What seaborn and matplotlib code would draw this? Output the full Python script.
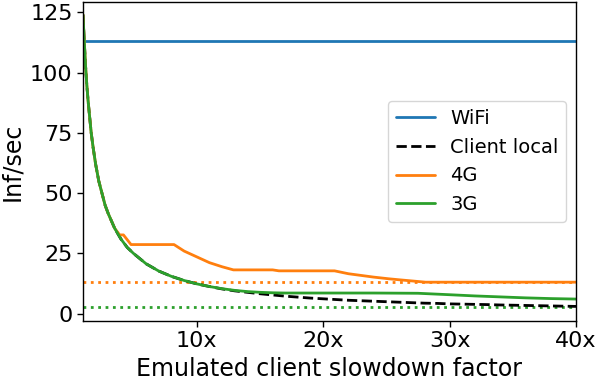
import matplotlib
matplotlib.use("Agg")
import matplotlib.pyplot as plt
import seaborn as sns

# ---- data ----
x_local = [1, 1.1, 1.2, 1.3, 1.4, 1.5, 1.65, 1.8, 2, 2.25, 2.5, 2.75, 3, 3.5, 4, 4.5, 5, 6,
           7, 8, 9, 10, 11, 12, 13, 14, 15, 16, 17, 18, 19, 20, 21, 22, 23, 24, 25, 26,
           27, 28, 29, 30, 31, 32, 33, 34, 35, 36, 37, 38, 39, 40]
y_local = [124, 113, 103, 95, 88.5, 83, 75, 69, 62, 55, 50, 45, 41.5, 35.5, 31, 27.5, 25,
           20.7, 17.7, 15.5, 13.8, 12.4, 11.3, 10.3, 9.5, 8.9, 8.3, 7.8, 7.3, 6.9, 6.5,
           6.2, 5.9, 5.6, 5.4, 5.2, 5.0, 4.8, 4.6, 4.4, 4.3, 4.1, 4.0, 3.9, 3.8, 3.65,
           3.55, 3.45, 3.35, 3.25, 3.15, 3.05]

x_3g = [1, 1.1, 1.2, 1.3, 1.4, 1.5, 1.65, 1.8, 2, 2.25, 2.5, 2.75, 3, 3.5, 4, 4.5, 5, 6,
        7, 8, 9, 10, 11, 12, 13, 14, 15, 16, 17, 20, 24, 27.5, 30, 32, 34, 36, 38, 40]
y_3g = [124, 113, 103, 95, 88.5, 83, 75, 69, 62, 55, 50, 45, 41.5, 35.5, 31, 27.5, 25,
        20.7, 17.7, 15.5, 13.8, 12.4, 11.3, 10.4, 9.7, 9.2, 8.9, 8.7, 8.6, 8.6, 8.6,
        8.5, 7.9, 7.4, 7.0, 6.6, 6.3, 6.1]

x_4g = [1, 1.1, 1.2, 1.3, 1.4, 1.5, 1.65, 1.8, 2, 2.25, 2.5, 2.75, 3, 3.5, 3.9, 4.2, 4.8,
        8.2, 9, 10, 11, 12, 12.9, 16, 16.5, 20.9, 22, 24, 25.2, 26, 28.1, 40]
y_4g = [124, 113, 103, 95, 88.5, 83, 75, 69, 62, 55, 50, 45, 41.5, 35.5, 32.7, 32.7,
        28.7, 28.7, 26.0, 23.6, 21.2, 19.5, 18.2, 18.2, 17.8, 17.8, 16.6, 15.2, 14.5,
        14.1, 13.1, 13.1]

x_wifi = [1, 40]
y_wifi = [113, 113]

ref_4g = 13.1
ref_3g = 3.0

xticks = [10, 20, 30, 40]
xtick_labels = ["10x", "20x", "30x", "40x"]
yticks = [0, 25, 50, 75, 100, 125]

# ---- plot ----
sns.set_style("ticks")
plt.rcParams["font.family"] = ["DejaVu Sans"]
plt.rcParams["axes.edgecolor"] = "black"
plt.rcParams["xtick.color"] = "black"
plt.rcParams["ytick.color"] = "black"
plt.rcParams["text.color"] = "black"
plt.rcParams["axes.labelcolor"] = "black"

fig, ax = plt.subplots(figsize=(5.98, 3.83), dpi=100)
fig.subplots_adjust(left=83 / 598, right=576 / 598, top=1 - 2 / 383, bottom=1 - 321 / 383)

blue, orange, green = "#1f77b4", "#ff7f0e", "#2ca02c"
lw = 2

ax.axhline(ref_4g, color=orange, linestyle=":", linewidth=lw)
ax.axhline(ref_3g, color=green, linestyle=":", linewidth=lw)

sns.lineplot(x=x_wifi, y=y_wifi, ax=ax, color=blue, label="WiFi", linewidth=lw)
sns.lineplot(x=x_local, y=y_local, ax=ax, color="black", label="Client local",
             linestyle="--", linewidth=lw)
sns.lineplot(x=x_4g, y=y_4g, ax=ax, color=orange, label="4G", linewidth=lw)
sns.lineplot(x=x_3g, y=y_3g, ax=ax, color=green, label="3G", linewidth=lw)

ax.set_xlim(1, 40)
ax.set_ylim(-3, 129.3)
ax.set_xticks(xticks)
ax.set_xticklabels(xtick_labels)
ax.set_yticks(yticks)
ax.tick_params(labelsize=16, width=1, length=4, labelcolor="black")
ax.set_xlabel("Emulated client slowdown factor", fontsize=17)
ax.set_ylabel("Inf/sec", fontsize=17)
for s in ax.spines.values():
    s.set_linewidth(1)
ax.legend(loc="center right", fontsize=14, frameon=True)

fig.savefig("out.png", dpi=100)
